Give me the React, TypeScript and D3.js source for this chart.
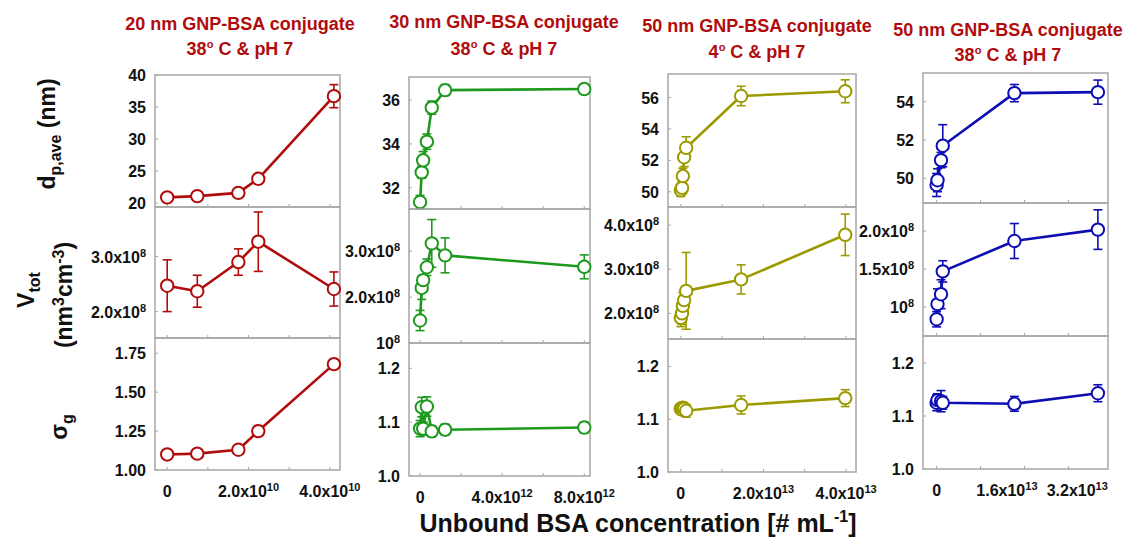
import * as d3 from "d3";

// ---- data ----
const titleLine1 = ["20 nm GNP-BSA conjugate", "30 nm GNP-BSA conjugate", "50 nm GNP-BSA conjugate", "50 nm GNP-BSA conjugate"];
const titleTemp = ["38", "38", "4", "38"];
const seriesColors = ["#b00c0c", "#1d9a1d", "#9b9b00", "#0d0db4"];

// 20 nm, 38 C
const conc20 = [0, 0.74e10, 1.75e10, 2.24e10, 4.1e10];
const dp20 = [20.9, 21.1, 21.6, 23.8, 36.7];
const dp20Err = [0.2, 0.2, 0.3, 0.7, 1.8];
const vt20 = [2.47e8, 2.37e8, 2.9e8, 3.27e8, 2.41e8];
const vt20Err = [0.47e8, 0.29e8, 0.24e8, 0.54e8, 0.31e8];
const sg20 = [1.1, 1.105, 1.13, 1.25, 1.68];
const sg20Err = [0.01, 0.01, 0.01, 0.02, 0.03];

// 30 nm, 38 C
const conc30 = [0, 0.08e12, 0.15e12, 0.33e12, 0.57e12, 1.22e12, 8.0e12];
const dp30 = [31.35, 32.7, 33.25, 34.1, 35.65, 36.45, 36.5];
const dp30Err = [0.3, 0.27, 0.4, 0.35, 0.3, 0.25, 0.22];
const vt30 = [1.49e8, 2.2e8, 2.37e8, 2.65e8, 3.17e8, 2.91e8, 2.66e8];
const vt30Err = [0.22e8, 0.25e8, 0.1e8, 0.18e8, 0.52e8, 0.38e8, 0.26e8];
const sg30 = [1.088, 1.128, 1.088, 1.129, 1.083, 1.086, 1.09];
const sg30Err = [0.015, 0.018, 0.012, 0.018, 0.01, 0.01, 0.01];

// 50 nm, 4 C
const conc50c = [0, 0.03e13, 0.05e13, 0.08e13, 0.13e13, 1.46e13, 3.98e13];
const dp50c = [50.1, 50.25, 51.0, 52.2, 52.8, 56.1, 56.4];
const dp50cErr = [0.4, 0.4, 0.5, 0.6, 0.7, 0.62, 0.73];
const vt50c = [1.9e8, 2.0e8, 2.17e8, 2.3e8, 2.51e8, 2.77e8, 3.78e8];
const vt50cErr = [0.2e8, 0.25e8, 0.3e8, 0.2e8, 0.87e8, 0.33e8, 0.47e8];
const sg50c = [1.12, 1.118, 1.122, 1.12, 1.116, 1.127, 1.14];
const sg50cErr = [0.01, 0.01, 0.01, 0.01, 0.012, 0.017, 0.016];

// 50 nm, 38 C
const conc50h = [0, 0.02e13, 0.1e13, 0.14e13, 1.77e13, 3.67e13];
const dp50h = [49.65, 49.9, 50.95, 51.7, 54.45, 54.5];
const dp50hErr = [0.6, 0.6, 0.4, 1.1, 0.45, 0.63];
const vt50h = [0.84e8, 1.04e8, 1.17e8, 1.47e8, 1.87e8, 2.02e8];
const vt50hErr = [0.1e8, 0.2e8, 0.19e8, 0.14e8, 0.23e8, 0.26e8];
const sg50h = [1.125, 1.13, 1.128, 1.125, 1.123, 1.143];
const sg50hErr = [0.015, 0.012, 0.02, 0.012, 0.014, 0.016];

// axis ranges and ticks
const xDomains = [[-0.3e10, 4.25e10], [-0.54e12, 8.28e12], [-0.31e13, 4.24e13], [-0.31e13, 3.9e13]];
const xMinorTicks = [[0, 1e10, 2e10, 3e10, 4e10], [0, 2e12, 4e12, 6e12, 8e12], [0, 1e13, 2e13, 3e13, 4e13], [0, 1e13, 2e13, 3e13]];
const xLabelTicks = [[0, 2e10, 4e10], [0, 4e12, 8e12], [0, 2e13, 4e13], [0, 1.6e13, 3.2e13]];
const xLabelText = [["0", "2.0x10^10", "4.0x10^10"], ["0", "4.0x10^12", "8.0x10^12"], ["0", "2.0x10^13", "4.0x10^13"], ["0", "1.6x10^13", "3.2x10^13"]];

const dpDomains = [[19.4, 40], [31.03, 37.05], [49.03, 57.5], [48.71, 55.5]];
const dpTicks = [[20, 25, 30, 35, 40], [32, 34, 36], [50, 52, 54, 56], [50, 52, 54]];
const vtDomains = [[1.52e8, 3.9e8], [1.0e8, 3.92e8], [1.42e8, 4.41e8], [0.62e8, 2.37e8]];
const vtTicks = [[2e8, 3e8], [1e8, 2e8, 3e8], [2e8, 3e8, 4e8], [1e8, 1.5e8, 2e8]];
const vtTickText = [["2.0x10^8", "3.0x10^8"], ["10^8", "2.0x10^8", "3.0x10^8"], ["2.0x10^8", "3.0x10^8", "4.0x10^8"], ["10^8", "1.5x10^8", "2.0x10^8"]];
const sgDomains = [[1.0, 1.848], [1.0, 1.247], [1.0, 1.252], [1.0, 1.251]];
const sgTicks = [[1.0, 1.25, 1.5, 1.75], [1.0, 1.1, 1.2], [1.0, 1.1, 1.2], [1.0, 1.1, 1.2]];
const sgDigits = [2, 1, 1, 1];

// layout of each column frame
const frames = [
  { left: 155, right: 340, rows: [75, 207, 338, 470] },
  { left: 409, right: 590, rows: [77, 209, 343, 476] },
  { left: 668, right: 856, rows: [74, 207, 339, 472] },
  { left: 923, right: 1108, rows: [73, 203, 336, 469] },
];
const titlePos = [
  { cx: 240, y1: 30, y2: 55 },
  { cx: 504, y1: 28, y2: 55 },
  { cx: 757, y1: 32, y2: 58 },
  { cx: 1008, y1: 36, y2: 61 },
];

const columns = [
  { x: conc20, dp: dp20, dpE: dp20Err, vt: vt20, vtE: vt20Err, sg: sg20, sgE: sg20Err },
  { x: conc30, dp: dp30, dpE: dp30Err, vt: vt30, vtE: vt30Err, sg: sg30, sgE: sg30Err },
  { x: conc50c, dp: dp50c, dpE: dp50cErr, vt: vt50c, vtE: vt50cErr, sg: sg50c, sgE: sg50cErr },
  { x: conc50h, dp: dp50h, dpE: dp50hErr, vt: vt50h, vtE: vt50hErr, sg: sg50h, sgE: sg50hErr },
];

const FONT = "Arial, 'Liberation Sans', Helvetica, sans-serif";
const FRAME = "#a6a6a6";

// "2.0x10^8" -> base + superscript
function PowLabel({ text, x, y, anchor }: { text: string; x: number; y: number; anchor: string }) {
  const [base, sup] = text.split("^");
  return (
    <text x={x} y={y} textAnchor={anchor} fontFamily={FONT} fontWeight="bold" fontSize={16} fill="#111">
      {base}
      {sup !== undefined && (
        <tspan dy={-6} fontSize={11}>{sup}</tspan>
      )}
    </text>
  );
}

function Panel({ xs, ys, vals, errs, color, top, bottom, left, right, yTicks, yText, xTicks }: any) {
  const y = d3.scaleLinear().domain(ys).range([bottom, top]);
  const line = d3.line<number>().x((d) => xs(d)).y((d, i) => y(vals[i]));
  const xVals: number[] = xTicks.vals;
  return (
    <g>
      <rect x={left} y={top} width={right - left} height={bottom - top} fill="none" stroke={FRAME} strokeWidth={1.5} />
      {xVals.map((t: number) => (
        <line key={"xt" + t} x1={xs(t)} x2={xs(t)} y1={bottom} y2={bottom - 3} stroke={FRAME} strokeWidth={1} />
      ))}
      {yTicks.map((t: number, i: number) => (
        <g key={"yt" + t}>
          <line x1={left} x2={left + 3} y1={y(t)} y2={y(t)} stroke={FRAME} strokeWidth={1} />
          <PowLabel text={yText[i]} x={left - 9} y={y(t) + 6} anchor="end" />
        </g>
      ))}
      <path d={line(xTicks.data) || ""} fill="none" stroke={color} strokeWidth={2.6} strokeLinejoin="round" />
      {xTicks.data.map((d: number, i: number) => {
        const cx = xs(d);
        const y0 = y(vals[i] - errs[i]);
        const y1 = y(vals[i] + errs[i]);
        return (
          <g key={"e" + i} stroke={color} strokeWidth={1.6}>
            <line x1={cx} x2={cx} y1={y0} y2={y1} />
            <line x1={cx - 4.5} x2={cx + 4.5} y1={y0} y2={y0} />
            <line x1={cx - 4.5} x2={cx + 4.5} y1={y1} y2={y1} />
          </g>
        );
      })}
      {xTicks.data.map((d: number, i: number) => (
        <circle key={"c" + i} cx={xs(d)} cy={y(vals[i])} r={6.2} fill="#fff" stroke={color} strokeWidth={2} />
      ))}
    </g>
  );
}

export default function App() {
  const W = 1127;
  const H = 537;
  return (
    <svg width={W} height={H} style={{ position: "absolute", left: 0, top: 0, background: "#fff" }}>
      {columns.map((col, c) => {
        const f = frames[c];
        const xs = d3.scaleLinear().domain(xDomains[c]).range([f.left, f.right]);
        const color = seriesColors[c];
        const xt = { vals: xMinorTicks[c], data: col.x };
        const tp = titlePos[c];
        return (
          <g key={c}>
            <text x={tp.cx} y={tp.y1} textAnchor="middle" fontFamily={FONT} fontWeight="bold" fontSize={18} fill="#b00c0c">
              {titleLine1[c]}
            </text>
            <text x={tp.cx} y={tp.y2} textAnchor="middle" fontFamily={FONT} fontWeight="bold" fontSize={18} fill="#b00c0c">
              {titleTemp[c]}
              <tspan dy={-7} fontSize={11}>o</tspan>
              <tspan dy={7}> C &amp; pH 7</tspan>
            </text>
            <Panel xs={xs} ys={dpDomains[c]} vals={col.dp} errs={col.dpE} color={color}
              top={f.rows[0]} bottom={f.rows[1]} left={f.left} right={f.right}
              yTicks={dpTicks[c]} yText={dpTicks[c].map((t) => String(t))} xTicks={xt} />
            <Panel xs={xs} ys={vtDomains[c]} vals={col.vt} errs={col.vtE} color={color}
              top={f.rows[1]} bottom={f.rows[2]} left={f.left} right={f.right}
              yTicks={vtTicks[c]} yText={vtTickText[c]} xTicks={xt} />
            <Panel xs={xs} ys={sgDomains[c]} vals={col.sg} errs={col.sgE} color={color}
              top={f.rows[2]} bottom={f.rows[3]} left={f.left} right={f.right}
              yTicks={sgTicks[c]} yText={sgTicks[c].map((t) => t.toFixed(sgDigits[c]))} xTicks={xt} />
            {xLabelTicks[c].map((t, i) => (
              <PowLabel key={"xl" + i} text={xLabelText[c][i]} x={xs(t)} y={f.rows[3] + 27} anchor="middle" />
            ))}
          </g>
        );
      })}

      {/* row titles */}
      <text transform="translate(55,134) rotate(-90)" textAnchor="middle" fontFamily={FONT} fontWeight="bold" fontSize={23} fill="#111">
        d<tspan dy={6} fontSize={16}>p,ave</tspan><tspan dy={-6}> (nm)</tspan>
      </text>
      <text transform="translate(34,290) rotate(-90)" textAnchor="middle" fontFamily={FONT} fontWeight="bold" fontSize={23} fill="#111">
        V<tspan dy={6} fontSize={16}>tot</tspan>
      </text>
      <text transform="translate(72,295) rotate(-90)" textAnchor="middle" fontFamily={FONT} fontWeight="bold" fontSize={23} fill="#111">
        (nm<tspan dy={-8} fontSize={16}>3</tspan><tspan dy={8}>cm</tspan><tspan dy={-8} fontSize={16}>-3</tspan><tspan dy={8}>)</tspan>
      </text>
      <text transform="translate(67,427) rotate(-90)" textAnchor="middle" fontFamily={FONT} fontWeight="bold" fontSize={23} fill="#111">
        σ<tspan dy={6} fontSize={16}>g</tspan>
      </text>

      {/* x axis title */}
      <text x={638} y={532} textAnchor="middle" fontFamily={FONT} fontWeight="bold" fontSize={25} fill="#111">
        Unbound BSA concentration [# mL<tspan dy={-10} fontSize={16}>-1</tspan><tspan dy={10}>]</tspan>
      </text>
    </svg>
  );
}
